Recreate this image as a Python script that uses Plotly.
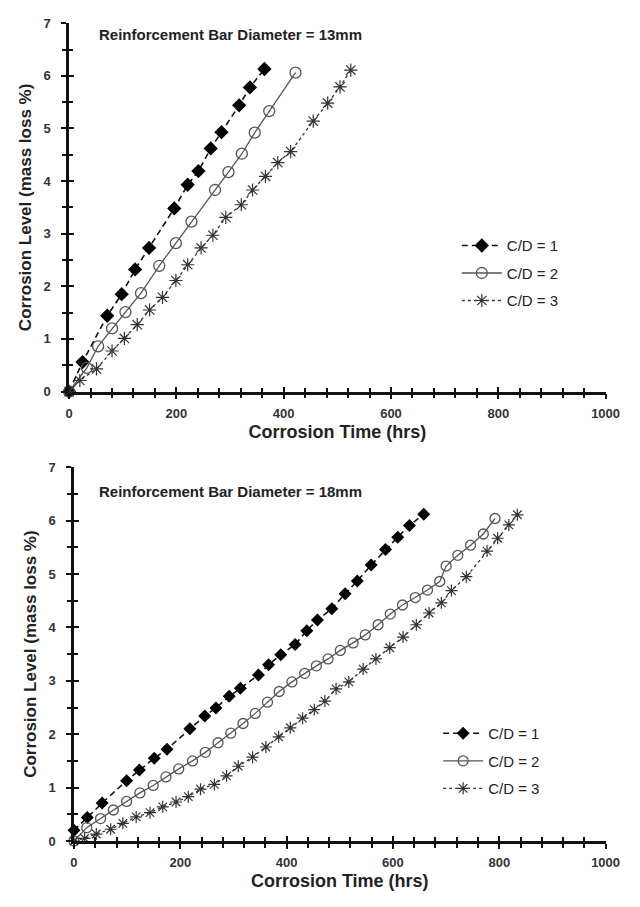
import plotly.graph_objects as go

# ---------------- data: 13 mm bar ----------------
d13_cd1_x = [0, 25, 71, 98, 123, 149, 196, 221, 241, 264, 284, 317, 337, 364]
d13_cd1_y = [0, 0.56, 1.44, 1.85, 2.32, 2.73, 3.48, 3.93, 4.19, 4.62, 4.93, 5.44, 5.78, 6.13]

d13_cd2_x = [0, 33, 54, 80, 105, 134, 168, 199, 228, 272, 297, 322, 346, 373, 422]
d13_cd2_y = [0, 0.45, 0.86, 1.2, 1.51, 1.87, 2.39, 2.82, 3.23, 3.83, 4.17, 4.52, 4.92, 5.33, 6.06]

d13_cd3_x = [0, 20, 51, 80, 103, 127, 150, 174, 199, 221, 246, 268, 292, 321, 342, 366, 389, 413, 455, 482, 505, 525]
d13_cd3_y = [0, 0.21, 0.43, 0.77, 1.01, 1.27, 1.55, 1.79, 2.11, 2.41, 2.73, 2.97, 3.31, 3.55, 3.83, 4.09, 4.35, 4.56, 5.14, 5.48, 5.79, 6.11]

# ---------------- data: 18 mm bar ----------------
d18_cd1_x = [0, 25, 53, 99, 123, 151, 175, 218, 246, 267, 292, 313, 347, 366, 389, 416, 438, 458, 485, 510, 533, 559, 586, 609, 631, 658]
d18_cd1_y = [0.2, 0.44, 0.71, 1.13, 1.33, 1.55, 1.72, 2.1, 2.34, 2.49, 2.71, 2.86, 3.11, 3.3, 3.49, 3.68, 3.94, 4.14, 4.35, 4.63, 4.87, 5.17, 5.46, 5.69, 5.91, 6.12]

d18_cd2_x = [0, 24, 50, 74, 99, 124, 149, 173, 197, 223, 247, 271, 295, 318, 341, 364, 386, 410, 434, 456, 478, 501, 525, 548, 572, 595, 618, 642, 665, 688, 700, 722, 746, 770, 792]
d18_cd2_y = [0, 0.25, 0.42, 0.58, 0.74, 0.9, 1.04, 1.2, 1.35, 1.5, 1.66, 1.84, 2.02, 2.2, 2.39, 2.6, 2.8, 2.98, 3.14, 3.28, 3.41, 3.57, 3.71, 3.86, 4.05, 4.25, 4.42, 4.56, 4.7, 4.86, 5.15, 5.35, 5.54, 5.75, 6.04]

d18_cd3_x = [0, 20, 42, 69, 92, 117, 143, 167, 192, 215, 238, 264, 287, 309, 336, 361, 385, 407, 430, 452, 472, 493, 517, 544, 568, 594, 619, 644, 668, 691, 710, 738, 777, 797, 818, 834]
d18_cd3_y = [0, 0.05, 0.13, 0.22, 0.33, 0.45, 0.53, 0.64, 0.73, 0.83, 0.97, 1.06, 1.22, 1.4, 1.57, 1.76, 1.95, 2.12, 2.3, 2.46, 2.62, 2.85, 2.98, 3.22, 3.41, 3.62, 3.82, 4.05, 4.27, 4.46, 4.69, 4.95, 5.43, 5.67, 5.92, 6.11]

series_names = ["C/D = 1", "C/D = 2", "C/D = 3"]
titles = ["Reinforcement Bar Diameter = 13mm", "Reinforcement Bar Diameter = 18mm"]
x_title = "Corrosion Time (hrs)"
y_title = "Corrosion Level (mass loss %)"

W, H = 640, 907
FONT = "Liberation Sans, Arial, sans-serif"

fig = go.Figure()

def add_set(data, xa, ya, legend, msize):
    (x1, y1), (x2, y2), (x3, y3) = data
    fig.add_trace(go.Scatter(
        x=x1, y=y1, name=series_names[0], mode="lines+markers",
        line=dict(color="#111111", width=1.6, dash="6px,4px"),
        marker=dict(symbol="diamond", size=msize + 1, color="#000000"),
        xaxis=xa, yaxis=ya, legend=legend, legendgroup=legend + "a", cliponaxis=False))
    fig.add_trace(go.Scatter(
        x=x2, y=y2, name=series_names[1], mode="lines+markers",
        line=dict(color="#555555", width=1.3),
        marker=dict(symbol="circle-open", size=msize + 1, color="#555555", line=dict(width=1.3)),
        xaxis=xa, yaxis=ya, legend=legend, legendgroup=legend + "b", cliponaxis=False))
    fig.add_trace(go.Scatter(
        x=x3, y=y3, name=series_names[2], mode="lines+markers",
        line=dict(color="#333333", width=1.3, dash="3px,3px"),
        marker=dict(symbol="asterisk-open", size=msize + 1, color="#333333", line=dict(width=1.2)),
        xaxis=xa, yaxis=ya, legend=legend, legendgroup=legend + "c", cliponaxis=False))

add_set([(d13_cd1_x, d13_cd1_y), (d13_cd2_x, d13_cd2_y), (d13_cd3_x, d13_cd3_y)], "x", "y", "legend", 10)
add_set([(d18_cd1_x, d18_cd1_y), (d18_cd2_x, d18_cd2_y), (d18_cd3_x, d18_cd3_y)], "x2", "y2", "legend2", 9)

# invisible traces for overlay tick axes (ticks crossing the axis line)
fig.add_trace(go.Scatter(x=[None], y=[None], xaxis="x3", yaxis="y3", showlegend=False, hoverinfo="skip"))
fig.add_trace(go.Scatter(x=[None], y=[None], xaxis="x4", yaxis="y4", showlegend=False, hoverinfo="skip"))

def px_dom(a, b, total):
    return [a / total, b / total]

top_xd = px_dom(67, 619, W)
bot_xd = px_dom(72, 619, W)
top_yd = [1 - 391 / H, 1 - 16.5 / H]
bot_yd = [1 - 848 / H, 1 - 468 / H]

tickfont = dict(family=FONT, size=13, color="#333333", weight="bold")

def xax(dom, anchor, title):
    return dict(domain=dom, anchor=anchor, range=[0, 1000], tick0=0, dtick=200,
                showgrid=False, zeroline=False, showline=True, linecolor="#111111", linewidth=2.5,
                ticks="outside", ticklen=5, tickwidth=2, tickcolor="#111111",
                minor=dict(dtick=40, ticks="outside", ticklen=4, tickwidth=1.6, tickcolor="#111111"),
                tickfont=tickfont, ticklabelstandoff=3,
                title=dict(text=title, font=dict(family=FONT, size=18, color="#222222", weight="bold"),
                           standoff=6))

def yax(dom, anchor, title):
    return dict(domain=dom, anchor=anchor, range=[0, 7], tick0=0, dtick=1,
                showgrid=False, zeroline=False, showline=True, linecolor="#111111", linewidth=2.5,
                ticks="outside", ticklen=5, tickwidth=2, tickcolor="#111111",
                minor=dict(dtick=0.5, ticks="outside", ticklen=4, tickwidth=1.6, tickcolor="#111111"),
                tickfont=tickfont, ticklabelstandoff=8,
                title=dict(text=title, font=dict(family=FONT, size=17, color="#222222", weight="bold"),
                           standoff=8))

def ovx(over, anchor):
    return dict(overlaying=over, anchor=anchor, range=[0, 1000], tick0=0, dtick=200,
                showgrid=False, zeroline=False, showline=False, showticklabels=False,
                ticks="inside", ticklen=5, tickwidth=2, tickcolor="#111111",
                minor=dict(dtick=40, ticks="inside", ticklen=4, tickwidth=1.6, tickcolor="#111111"))

def ovy(over, anchor):
    return dict(overlaying=over, anchor=anchor, range=[0, 7], tick0=0, dtick=1,
                showgrid=False, zeroline=False, showline=False, showticklabels=False,
                ticks="inside", ticklen=5, tickwidth=2, tickcolor="#111111",
                minor=dict(dtick=0.5, ticks="inside", ticklen=4, tickwidth=1.6, tickcolor="#111111"))

legfont = dict(family=FONT, size=15, color="#222222")

fig.update_layout(
    width=W, height=H, margin=dict(l=0, r=0, t=0, b=0),
    paper_bgcolor="white", plot_bgcolor="white",
    font=dict(family=FONT, color="#222222"),
    xaxis=xax(top_xd, "y", x_title),
    yaxis=yax(top_yd, "x", y_title),
    xaxis2=xax(bot_xd, "y2", x_title),
    yaxis2=yax(bot_yd, "x2", y_title),
    xaxis3=ovx("x", "y"),
    yaxis3=ovy("y", "x"),
    xaxis4=ovx("x2", "y2"),
    yaxis4=ovy("y2", "x2"),
    legend=dict(x=0.728, y=1 - 226 / H, xanchor="left", yanchor="top", font=legfont,
                bgcolor="rgba(0,0,0,0)", tracegroupgap=5, itemwidth=40),
    legend2=dict(x=0.698, y=1 - 722 / H, xanchor="left", yanchor="top", font=legfont,
                 bgcolor="rgba(0,0,0,0)", tracegroupgap=5, itemwidth=40),
    showlegend=True,
)

fig.add_annotation(text=titles[0], xref="paper", yref="paper", x=96 / W, y=1 - 28 / H,
                   xanchor="left", yanchor="middle", showarrow=False,
                   font=dict(family=FONT, size=15, color="#222222", weight="bold"))
fig.add_annotation(text=titles[1], xref="paper", yref="paper", x=96 / W, y=1 - 493 / H,
                   xanchor="left", yanchor="middle", showarrow=False,
                   font=dict(family=FONT, size=15, color="#222222", weight="bold"))

fig.write_html("out.html")
